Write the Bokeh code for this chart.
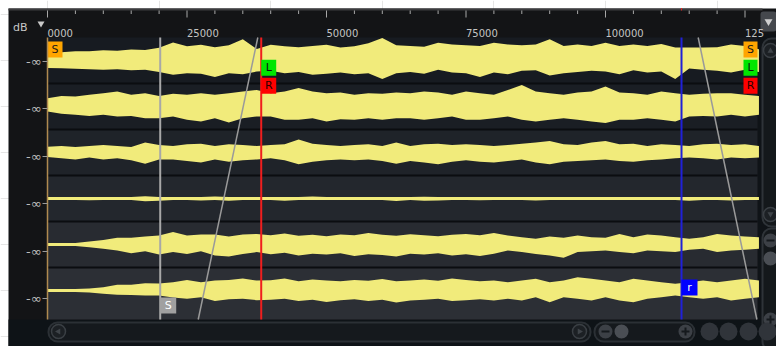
import math
from bokeh.plotting import figure
from bokeh.models import Range1d, LinearAxis, FixedTicker, ColumnDataSource
from bokeh.embed import file_html
from bokeh.resources import INLINE
from bokeh.core.properties import value

# ---------------- data ----------------
sample_pos = list(range(0, 127501, 2500))   # 52 envelope columns (samples)

t1_up = [0.35, 0.36, 0.40, 0.40, 0.45, 0.42, 0.48, 0.46, 0.55, 0.78, 0.62, 0.68, 0.58, 0.66, 0.92, 0.50, 0.68, 0.62, 0.58, 0.63, 0.68, 0.56, 0.62, 0.75, 0.98, 0.66,
         0.63, 0.60, 0.77, 0.70, 0.66, 0.63, 0.77, 0.70, 0.66, 0.70, 0.92, 0.63, 0.70, 0.63, 0.77, 0.63, 0.70, 0.63, 0.72, 0.56, 0.56, 0.56, 0.58, 0.70, 0.63, 0.49]
t1_dn = [0.33, 0.34, 0.36, 0.38, 0.40, 0.38, 0.42, 0.40, 0.50, 0.62, 0.55, 0.58, 0.72, 0.55, 0.60, 0.48, 0.45, 0.55, 0.50, 0.62, 0.58, 0.52, 0.60, 0.55, 0.80, 0.55,
         0.50, 0.58, 0.40, 0.52, 0.55, 0.72, 0.52, 0.60, 0.45, 0.42, 0.65, 0.55, 0.50, 0.45, 0.48, 0.60, 0.42, 0.52, 0.48, 0.80, 0.35, 0.40, 0.45, 0.52, 0.40, 0.50]
t2_up = [0.36, 0.46, 0.43, 0.51, 0.58, 0.65, 0.51, 0.58, 0.46, 0.55, 0.51, 0.58, 0.51, 0.58, 0.65, 0.72, 0.58, 0.65, 0.80, 0.65, 0.58, 0.61, 0.51, 0.58, 0.55, 0.61,
         0.58, 0.65, 0.61, 0.51, 0.65, 0.58, 0.51, 0.72, 0.94, 0.65, 0.58, 0.51, 0.61, 0.65, 0.87, 0.61, 0.58, 0.51, 0.65, 0.58, 0.51, 0.55, 0.58, 0.58, 0.51, 0.46]
t2_dn = [0.22, 0.32, 0.36, 0.41, 0.36, 0.43, 0.41, 0.51, 0.51, 0.43, 0.58, 0.65, 0.51, 0.70, 0.51, 0.43, 0.43, 0.58, 0.58, 0.51, 0.65, 0.55, 0.58, 0.51, 0.58, 0.51,
         0.51, 0.58, 0.51, 0.43, 0.58, 0.58, 0.51, 0.43, 0.58, 0.65, 0.58, 0.51, 0.58, 0.65, 0.72, 0.58, 0.58, 0.51, 0.58, 0.65, 0.43, 0.41, 0.43, 0.36, 0.43, 0.36]
t3_up = [0.25, 0.28, 0.24, 0.28, 0.33, 0.28, 0.24, 0.43, 0.33, 0.28, 0.36, 0.38, 0.28, 0.36, 0.33, 0.28, 0.33, 0.36, 0.57, 0.38, 0.33, 0.28, 0.33, 0.36, 0.28, 0.43,
         0.28, 0.36, 0.38, 0.33, 0.36, 0.33, 0.28, 0.33, 0.38, 0.43, 0.50, 0.36, 0.33, 0.43, 0.50, 0.36, 0.38, 0.28, 0.36, 0.33, 0.28, 0.36, 0.38, 0.33, 0.36, 0.28]
t3_dn = [0.20, 0.25, 0.30, 0.22, 0.30, 0.25, 0.34, 0.49, 0.30, 0.30, 0.37, 0.44, 0.30, 0.40, 0.34, 0.30, 0.25, 0.34, 0.51, 0.40, 0.34, 0.30, 0.34, 0.30, 0.37, 0.49,
         0.37, 0.44, 0.51, 0.40, 0.34, 0.40, 0.44, 0.37, 0.30, 0.44, 0.51, 0.40, 0.37, 0.34, 0.30, 0.37, 0.40, 0.34, 0.30, 0.25, 0.22, 0.25, 0.30, 0.22, 0.25, 0.22]
t4_up = [0.06, 0.06, 0.06, 0.07, 0.06, 0.06, 0.06, 0.10, 0.06, 0.06, 0.06, 0.06, 0.09, 0.06, 0.06, 0.06, 0.06, 0.06, 0.06, 0.09, 0.06, 0.06, 0.06, 0.06, 0.06, 0.06,
         0.06, 0.08, 0.06, 0.06, 0.06, 0.06, 0.06, 0.06, 0.06, 0.06, 0.06, 0.06, 0.06, 0.06, 0.06, 0.06, 0.06, 0.06, 0.06, 0.06, 0.06, 0.06, 0.06, 0.06, 0.06, 0.06]
t4_dn = [0.06, 0.06, 0.06, 0.08, 0.06, 0.06, 0.06, 0.12, 0.10, 0.06, 0.06, 0.09, 0.06, 0.10, 0.06, 0.06, 0.06, 0.10, 0.06, 0.06, 0.06, 0.06, 0.06, 0.06, 0.06, 0.11,
         0.06, 0.10, 0.09, 0.06, 0.06, 0.08, 0.06, 0.06, 0.06, 0.09, 0.06, 0.06, 0.06, 0.06, 0.06, 0.06, 0.06, 0.06, 0.06, 0.06, 0.10, 0.06, 0.06, 0.09, 0.06, 0.06]
t5_up = [0.06, 0.06, 0.06, 0.13, 0.20, 0.29, 0.29, 0.35, 0.39, 0.54, 0.39, 0.43, 0.43, 0.35, 0.43, 0.46,
         0.40, 0.48, 0.38, 0.42, 0.36, 0.44, 0.40, 0.50, 0.42, 0.38, 0.45, 0.40, 0.36, 0.42, 0.46, 0.40, 0.50,
         0.39, 0.32, 0.25, 0.35, 0.29, 0.39, 0.32, 0.29, 0.46, 0.32, 0.43, 0.39, 0.32, 0.25, 0.32, 0.46, 0.39, 0.35, 0.32]
t5_dn = [0.06, 0.06, 0.06, 0.12, 0.19, 0.26, 0.38, 0.29, 0.43, 0.33, 0.41, 0.29, 0.48, 0.52, 0.41, 0.33,
         0.42, 0.36, 0.48, 0.40, 0.44, 0.38, 0.50, 0.42, 0.46, 0.52, 0.40, 0.44, 0.38, 0.48, 0.42, 0.50, 0.40,
         0.26, 0.33, 0.41, 0.48, 0.58, 0.33, 0.29, 0.26, 0.33, 0.38, 0.26, 0.29, 0.33, 0.23, 0.19, 0.33, 0.26, 0.23, 0.19]
t6_up = [0.06, 0.06, 0.06, 0.09, 0.14, 0.25, 0.25, 0.32, 0.30, 0.36, 0.46, 0.36, 0.43, 0.46, 0.52, 0.43,
         0.45, 0.52, 0.40, 0.48, 0.44, 0.40, 0.46, 0.42, 0.50, 0.40, 0.44, 0.48, 0.42, 0.52, 0.46, 0.40, 0.44,
         0.36, 0.43, 0.51, 0.36, 0.43, 0.58, 0.51, 0.43, 0.36, 0.51, 0.43, 0.36, 0.29, 0.36, 0.43, 0.36, 0.43, 0.51, 0.43]
t6_dn = [0.06, 0.06, 0.07, 0.09, 0.14, 0.19, 0.20, 0.22, 0.22, 0.30, 0.36, 0.29, 0.46, 0.38, 0.36, 0.42,
         0.40, 0.36, 0.46, 0.40, 0.50, 0.42, 0.38, 0.46, 0.40, 0.52, 0.44, 0.40, 0.36, 0.46, 0.42, 0.38, 0.44,
         0.36, 0.43, 0.29, 0.51, 0.29, 0.36, 0.43, 0.29, 0.43, 0.51, 0.36, 0.29, 0.22, 0.29, 0.36, 0.29, 0.43, 0.36, 0.29]

tracks_up = [t1_up, t2_up, t3_up, t4_up, t5_up, t6_up]
tracks_dn = [t1_dn, t2_dn, t3_dn, t4_dn, t5_dn, t6_dn]

x_major = [0, 25000, 50000, 75000, 100000, 125000]
x_labels = ["0000", "25000", "50000", "75000", "100000", "125"]
x_minor = [t for t in range(5000, 127500, 5000) if t % 25000 != 0]
db_ticks = [0, 1, 2, 3, 4, 5]
db_labels = ["-∞", "-∞", "-∞", "-∞", "-∞", "-∞"]

gray_marker = 20200      # "S" selection marker
red_marker = 38300       # L / R loop marker
blue_marker = 113620     # "r" marker
fade_in_x = [37690, 27010]
fade_out_x = [116610, 127130]

# ---------------- layout helpers (page pixels -> data) ----------------
FONT = "DejaVu Sans"
X_END = 127240.0          # last visible sample at the right edge of the tracks
FRAME_L, FRAME_W = 47, 710
TRACK_TOP, TRACK_H = 37, 46
K = X_END / FRAME_W       # samples per pixel


def X(px):
    return (px - FRAME_L) * K


def Y(py):
    return (py - TRACK_TOP) / TRACK_H - 0.5


def DB(py):
    return (py - 61) / 47.4


Y_TOP, Y_BOT = Y(37), Y(319)
WAVE = "#f1eb7b"
track_bg = ["#171b21", "#1a1e24", "#1f2329", "#23272d", "#282b31", "#2c2f35"]

p = figure(width=776, height=346, x_range=Range1d(X(0), X(776)), y_range=Range1d(Y(346), Y(0)),
           x_axis_location=None, y_axis_location=None, min_border=0,
           output_backend="svg", toolbar_location=None,
           background_fill_color="#ffffff", border_fill_color="#ffffff",
           outline_line_color=None)
p.extra_y_ranges = {"db": Range1d(DB(346), DB(0))}

# ---------------- editor chrome ----------------
def panel(l, r, t, b, fill, line=None, lw=1, radius=0):
    p.quad(left=[X(l)], right=[X(r)], top=[Y(t)], bottom=[Y(b)], fill_color=fill,
           line_color=line, line_width=lw, border_radius=radius)


panel(8, 776, 8, 346, "#131416")
panel(8, 762, 8, 10, "#3c3c3e")
panel(8, 776, 319, 346, "#0e1317")
panel(757, 776, 34, 319, "#0f1317")

# ---------------- tracks ----------------
n = len(tracks_up)
idx = list(range(n))
p.quad(left=0, right=X_END, top=[i - 0.5 for i in idx], bottom=[i + 0.5 for i in idx[:-1]] + [Y_BOT],
       fill_color=track_bg, line_color=None)
p.segment(x0=0, x1=X_END, y0=[i + 0.5 for i in idx[:-1]], y1=[i + 0.5 for i in idx[:-1]],
          line_color="#0b0d10", line_width=2)

for i in idx:
    p.varea(x=sample_pos,
            y1=[i - u * 0.5 for u in tracks_up[i]],
            y2=[i + d * 0.5 for d in tracks_dn[i]],
            fill_color=WAVE)

# marker lines and fades
p.segment(x0=[gray_marker], x1=[gray_marker], y0=Y_TOP, y1=Y_BOT, line_color="#a8a8a8", line_width=2)
p.line(x=fade_in_x, y=[Y_TOP, Y_BOT], line_color="#9a9a9a", line_width=1.5)
p.line(x=fade_out_x, y=[Y_TOP, Y_BOT], line_color="#9a9a9a", line_width=1.5)
p.segment(x0=[red_marker], x1=[red_marker], y0=Y_TOP, y1=Y_BOT, line_color="#f01e1e", line_width=2)
p.segment(x0=[blue_marker], x1=[blue_marker], y0=Y_TOP, y1=Y_BOT, line_color="#2020d8", line_width=2)

# flags
flag_x = [7.5 * K, red_marker + 7.5 * K, red_marker + 7.5 * K,
          X_END - 7 * K, X_END - 7 * K, X_END - 7 * K,
          blue_marker + 8 * K, gray_marker + 8 * K]
flag_y = [Y(49), Y(67.3), Y(85.2), Y(49), Y(67.3), Y(85.2), Y(287), Y(305)]
flag_w = [15, 15, 15, 14, 14, 14, 16, 16]
flag_h = [16, 16, 16, 16, 16, 16, 16, 16]
flag_fill = ["#ffa500", "#00e600", "#ff0000", "#ffa500", "#00e600", "#ff0000", "#0000ff", "#a0a0a0"]
flag_txt = ["S", "L", "R", "S", "L", "R", "r", "S"]
flag_tcol = ["#1a1a1a", "#111111", "#2a0000", "#1a1a1a", "#111111", "#2a0000", "#ffffff", "#ffffff"]
fsrc = ColumnDataSource(dict(x=flag_x, y=flag_y, w=flag_w, h=flag_h, fill=flag_fill,
                             text=flag_txt, tcol=flag_tcol))
p.rect(x="x", y="y", width="w", height="h", width_units="screen", height_units="screen",
       fill_color="fill", line_color=None, source=fsrc)
p.text(x="x", y="y", text="text", text_color="tcol", source=fsrc, text_align="center",
       text_baseline="middle", text_font=value(FONT), text_font_size="11px")

# ---------------- ruler: tick marks hang from the top edge ----------------
TICK_COL = "#a8a8a8"
p.segment(x0=x_major, x1=x_major, y0=Y(10), y1=Y(17), line_color=TICK_COL, line_width=1)
p.segment(x0=x_minor, x1=x_minor, y0=Y(10), y1=Y(13.5), line_color=TICK_COL, line_width=1)
p.segment(x0=[blue_marker], x1=[blue_marker], y0=Y(7.5), y1=Y(10), line_color="#e02020", line_width=1)

# labels start at their tick (left aligned): place them at tick + half text width
lab_pos = [int(round(t + len(s) * 3.18 * K)) for t, s in zip(x_major, x_labels)]
lax = LinearAxis(ticker=FixedTicker(ticks=lab_pos), fixed_location=Y_TOP,
                 axis_line_color=None, major_tick_in=0, major_tick_out=0,
                 minor_tick_line_color=None, major_tick_line_color=None,
                 major_label_standoff=1, major_label_overrides=dict(zip(lab_pos, x_labels)),
                 major_label_text_font=FONT, major_label_text_font_size="10px",
                 major_label_text_color="#c4c4c4")
p.add_layout(lax, "above")

# ---------------- left dB axis ----------------
yax = LinearAxis(y_range_name="db", ticker=FixedTicker(ticks=db_ticks), fixed_location=0,
                 bounds=(DB(37), DB(319)),
                 major_label_overrides=dict(zip(db_ticks, db_labels)),
                 axis_line_color="#b08a50", axis_line_width=1.5,
                 major_tick_in=0, major_tick_out=5, major_tick_line_color="#9a9a9a",
                 minor_tick_line_color=None, major_label_standoff=1,
                 major_label_text_color="#bcbcbc", major_label_text_font_size="13px",
                 major_label_text_font=FONT)
p.add_layout(yax, "left")

p.text(x=[X(12.5)], y=[Y(27.3)], text=["dB"], text_baseline="alphabetic", text_align="left",
       text_font=value(FONT), text_font_size="11px", text_color="#c8c8c8")
p.scatter(x=[X(40.5)], y=[Y(23)], marker="inverted_triangle", size=7,
          fill_color="#c8c8c8", line_color=None)

# ---------------- scrollbars / buttons ----------------
panel(48, 590, 322, 341, "#15191d", "#2b3035", 2, 9)
panel(594, 694, 322, 341, "#15191d", "#2b3035", 2, 9)
panel(760, 776, 11, 31, "#45484d", None, 1, 3)
panel(762, 784, 38, 226, "#14181b", "#2e3338", 2, 9)
panel(762, 784, 228, 350, "#14181b", "#2e3338", 2, 9)

p.scatter(x=[X(58), X(579), X(770), X(770)], y=[Y(331), Y(331), Y(50), Y(214)],
          size=14, marker="circle", fill_color="#1c2024", line_color="#3a3f44", line_width=1.5)
p.scatter(x=[X(58), X(579), X(770), X(770)], y=[Y(331), Y(331), Y(50.5), Y(213.5)],
          size=6, marker="triangle", angle=[math.pi / 2, -math.pi / 2, 0, math.pi],
          fill_color="#3e4348", line_color=None)
p.scatter(x=[X(605), X(685), X(770), X(770)], y=[Y(331), Y(331), Y(240), Y(319)],
          size=14, marker="circle", fill_color="#3c4046", line_color=None)
p.scatter(x=[X(621), X(770)], y=[Y(331), Y(258)],
          size=14, marker="circle", fill_color="#4a4e54", line_color=None)
p.scatter(x=[X(709), X(728), X(748), X(767)], y=[Y(331)] * 4,
          size=18, marker="circle", fill_color="#30343a", line_color=None)
p.scatter(x=[X(605), X(770)], y=[Y(331), Y(240)], marker="dash", size=8,
          line_color="#15191d", line_width=2)
p.scatter(x=[X(685), X(770)], y=[Y(331), Y(319)], marker="cross", size=8,
          line_color="#15191d", line_width=2)
p.scatter(x=[X(768)], y=[Y(21)], marker="inverted_triangle", size=8,
          fill_color="#d0d0d0", line_color=None)

open("out.html", "w").write(file_html(p, INLINE))
